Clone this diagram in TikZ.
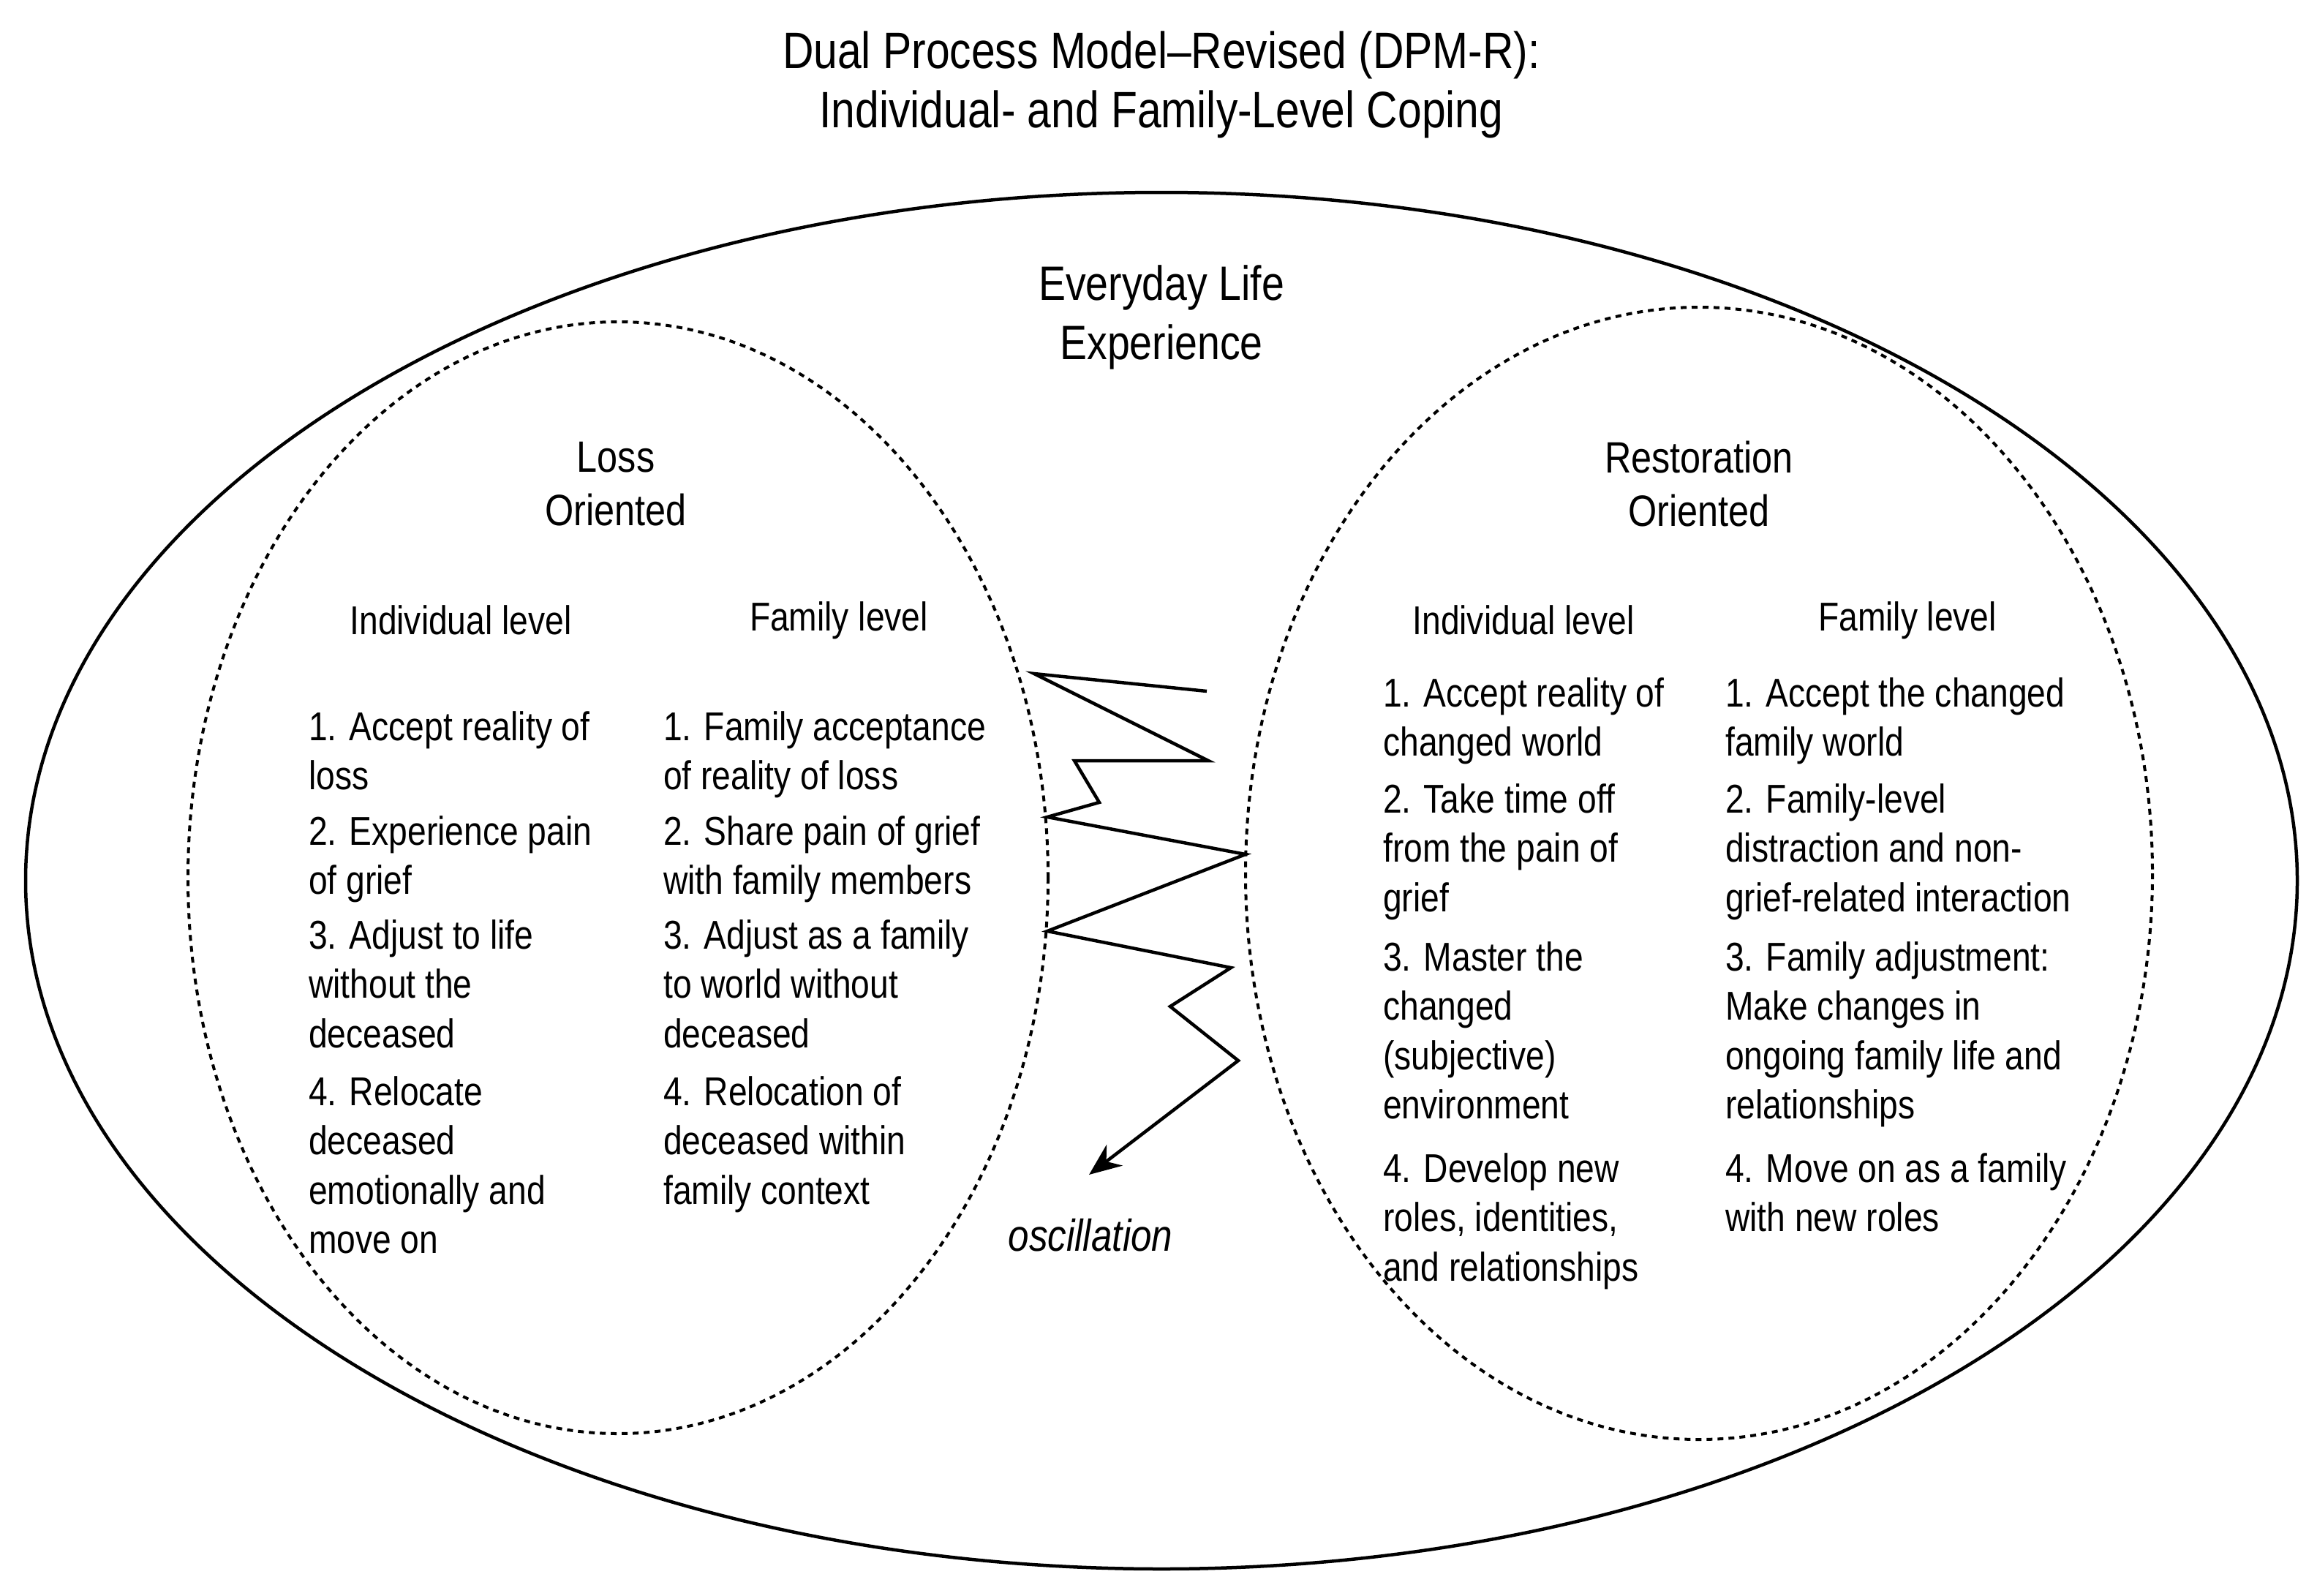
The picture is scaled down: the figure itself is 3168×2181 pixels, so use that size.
\documentclass[tikz,border=0pt]{standalone}
\usepackage{fontspec}
\setmainfont{Liberation Sans}[FakeStretch=0.84]
\usetikzlibrary{arrows.meta}
\begin{document}
\begin{tikzpicture}[x=1pt,y=-1pt,
  big/.style={font=\fontsize{70}{81}\selectfont,align=center},
  mid/.style={font=\fontsize{66}{81}\selectfont,align=center},
  head/.style={font=\fontsize{60}{73}\selectfont,align=center},
  lev/.style={font=\fontsize{55}{66}\selectfont},
  item/.style={font=\fontsize{55}{67.5}\selectfont,align=left,anchor=base west,inner sep=0pt},
  dsh/.style={line width=4pt,dash pattern=on 8pt off 7pt}]
\useasboundingbox (0,0) rectangle (3168,2181);
\node[big] (title) at (1588,116) {Dual Process Model--Revised (DPM-R):\\Individual- and Family-Level Coping};
\draw[line width=4.5pt] (1588,1204) ellipse [x radius=1553, y radius=941];
\draw[dsh] (845,1200) ellipse [x radius=588, y radius=760];
\draw[dsh] (2323,1194) ellipse [x radius=620, y radius=774];
\node[mid] (life) at (1588,434) {Everyday Life\\Experience};
\node[head] (loss) at (842,662) {Loss\\Oriented};
\node[head] (rest) at (2323,662) {Restoration\\Oriented};
\node[lev] (li) at (630,848) {Individual level};
\node[lev] (lf) at (1147,848) {Family level};
\node[lev] (ri) at (2083,848) {Individual level};
\node[lev] (rf) at (2608,848) {Family level};
% left individual
\node[item] (a1) at (422,1079.5) {1. Accept reality of\\loss};
\node[item] (a2) at (422,1222.5) {2. Experience pain\\of grief};
\node[item] (a3) at (422,1432) {3. Adjust to life\\without the\\deceased};
\node[item] (a4) at (422,1713.5) {4. Relocate\\deceased\\emotionally and\\move on};
% left family
\node[item] (b1) at (907,1079.5) {1. Family acceptance\\of reality of loss};
\node[item] (b2) at (907,1222.5) {2. Share pain of grief\\with family members};
\node[item] (b3) at (907,1432) {3. Adjust as a family\\to world without\\deceased};
\node[item] (b4) at (907,1646) {4. Relocation of\\deceased within\\family context};
% right individual
\node[item] (c1) at (1891,1033.5) {1. Accept reality of\\changed world};
\node[item] (c2) at (1891,1246) {2. Take time off\\from the pain of\\grief};
\node[item] (c3) at (1891,1529.5) {3. Master the\\changed\\(subjective)\\environment};
\node[item] (c4) at (1891,1751) {4. Develop new\\roles, identities,\\and relationships};
% right family
\node[item] (d1) at (2359,1033.5) {1. Accept the changed\\family world};
\node[item] (d2) at (2359,1246) {2. Family-level\\distraction and non-\\grief-related interaction};
\node[item] (d3) at (2359,1529.5) {3. Family adjustment:\\Make changes in\\ongoing family life and\\relationships};
\node[item] (d4) at (2359,1683.5) {4. Move on as a family\\with new roles};
\node[font=\fontsize{61}{68}\selectfont\itshape] (osc) at (1491,1689) {oscillation};
% zigzag
\coordinate (z0) at (1650,945);
\coordinate (z1) at (1414,921);
\coordinate (z2) at (1652,1040);
\coordinate (z3) at (1469,1040);
\coordinate (z4) at (1503,1097);
\coordinate (z5) at (1432,1117);
\coordinate (z6) at (1703,1168);
\coordinate (z7) at (1432,1273);
\coordinate (z8) at (1683,1323);
\coordinate (z9) at (1600,1376);
\coordinate (z10) at (1693,1450);
\coordinate (z11) at (1489,1606);
\draw[line width=4.5pt,line join=miter,-{Stealth[length=44pt,width=36pt]}]
  (z0)--(z1)--(z2)--(z3)--(z4)--(z5)--(z6)--(z7)--(z8)--(z9)--(z10)--(z11);
\end{tikzpicture}
\end{document}
